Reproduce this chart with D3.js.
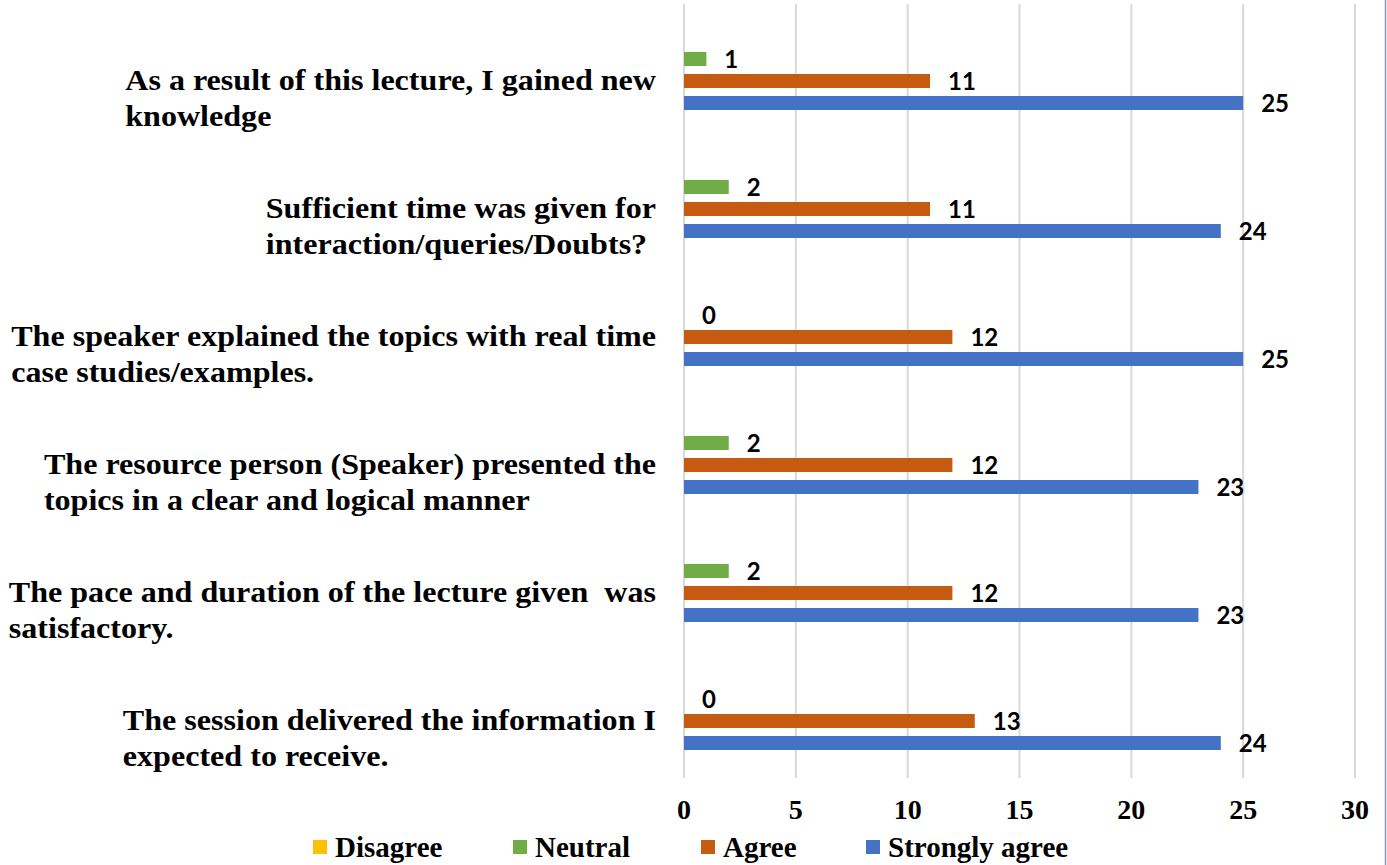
<!DOCTYPE html>
<html><head><meta charset="utf-8">
<script src="https://cdn.jsdelivr.net/npm/d3@7"></script>
<style>body{margin:0;background:#fff}svg{display:block}text{white-space:pre}</style>
</head><body>
<svg id="chart" width="1387" height="865"></svg>
<script>
const categories = [
  ["As a result of this lecture, I gained new", "knowledge"],
  ["Sufficient time was given for", "interaction/queries/Doubts?"],
  ["The speaker explained the topics with real time", "case studies/examples."],
  ["The resource person (Speaker) presented the", "topics in a clear and logical manner"],
  ["The pace and duration of the lecture given  was", "satisfactory."],
  ["The session delivered the information I", "expected to receive."]
];
const seriesNames = ["Disagree", "Neutral", "Agree", "Strongly agree"];
const seriesColors = ["#FFC000", "#70AD47", "#C55A11", "#4472C4"];
const disagree = [0, 0, 0, 0, 0, 0];
const neutral = [1, 2, 0, 2, 2, 0];
const agree = [11, 11, 12, 12, 12, 13];
const stronglyAgree = [25, 24, 25, 23, 23, 24];
const showLabels = [false, true, true, true];
const xTicks = [0, 5, 10, 15, 20, 25, 30];

const values = [disagree, neutral, agree, stronglyAgree];
const svg = d3.select("#chart");
const x = d3.scaleLinear().domain([0, 30]).range([684, 1355]);
const y0 = d3.scaleBand().domain(d3.range(categories.length)).range([6, 774]);
const y1 = d3.scaleBand().domain(d3.range(seriesNames.length)).range([20, 108]);
const barH = 14;
const serif = "'Liberation Serif', 'Times New Roman', serif";

// chart border at right edge
svg.append("line").attr("x1", 1385.5).attr("x2", 1385.5).attr("y1", 0).attr("y2", 865)
  .attr("stroke", "#8a97b8").attr("stroke-width", 1.5);

// gridlines
svg.append("g").selectAll("line").data(xTicks).join("line")
  .attr("x1", d => x(d)).attr("x2", d => x(d))
  .attr("y1", 4).attr("y2", 778)
  .attr("stroke", "#d9d9d9").attr("stroke-width", 2);

// bars
const groups = svg.append("g").selectAll("g").data(categories).join("g")
  .attr("transform", (d, i) => `translate(0,${y0(i)})`);
groups.each(function(c, i) {
  const g = d3.select(this);
  seriesNames.forEach((s, j) => {
    const v = values[j][i];
    const yb = y1(j) + (y1.bandwidth() - barH) / 2;
    if (v > 0) {
      g.append("rect").attr("x", x(0)).attr("y", yb)
        .attr("width", x(v) - x(0)).attr("height", barH)
        .attr("fill", seriesColors[j]);
    }
    if (showLabels[j]) {
      g.append("text").attr("x", x(v) + 18).attr("y", yb + barH / 2 + 9)
        .attr("font-family", "Lato, 'Open Sans', sans-serif").attr("font-weight", "bold")
        .attr("font-size", 24).attr("fill", "#000").text(v);
    }
  });
});

// category labels
const catG = svg.append("g");
categories.forEach((lines, i) => {
  const yc = y0(i) + 64;
  const g = catG.append("g").attr("transform", `translate(656,0) scale(1.07,1)`);
  const t1 = g.append("text").attr("x", 0).attr("y", yc + 20)
    .attr("text-anchor", "end")
    .attr("font-family", serif)
    .attr("font-weight", "bold").attr("font-size", 30).text(lines[0]);
  const w = t1.node().getComputedTextLength();
  g.append("text").attr("x", -w).attr("y", yc + 56)
    .attr("font-family", serif)
    .attr("font-weight", "bold").attr("font-size", 30).text(lines[1]);
});

// x axis labels
svg.append("g").selectAll("text").data(xTicks).join("text")
  .attr("x", d => x(d)).attr("y", 819).attr("text-anchor", "middle")
  .attr("font-family", serif)
  .attr("font-weight", "bold").attr("font-size", 28).text(d => d);

// legend
const legendX = [313, 513, 701, 866];
const lg = svg.append("g");
seriesNames.forEach((s, j) => {
  lg.append("rect").attr("x", legendX[j]).attr("y", 840).attr("width", 14).attr("height", 14)
    .attr("fill", seriesColors[j]);
  lg.append("text").attr("x", legendX[j] + 22).attr("y", 857)
    .attr("font-family", serif)
    .attr("font-weight", "bold").attr("font-size", 29).text(s);
});
</script>
</body></html>
